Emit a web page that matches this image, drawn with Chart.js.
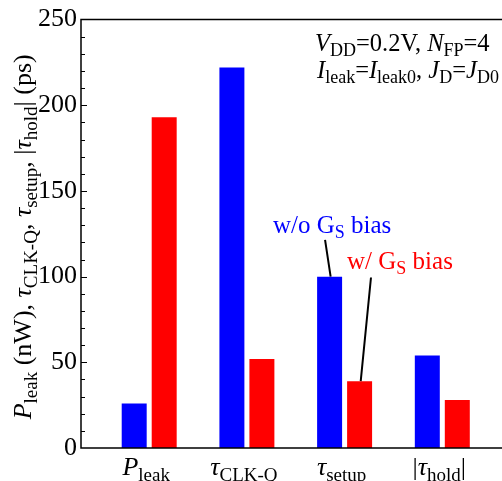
<!DOCTYPE html>
<html lang="en">
<head>
<meta charset="UTF-8">
<title>Leakage power and timing, with and without G_S bias</title>
<script src="https://cdn.jsdelivr.net/npm/chart.js"></script>
<style>
  body { margin: 0; background: #fff; }
  #chart { display: block; }
</style>
</head>
<body>
<canvas id="chart" width="502" height="481"></canvas>
<script>
// one x position per metric
const positions = [1, 2, 3, 4];
const withoutBias = [26, 222, 100, 54];   // w/o G_S bias (blue)
const withBias = [193, 52, 39, 28];       // w/ G_S bias (red)
const yTicks = [0, 50, 100, 150, 200, 250];

// label pieces: [text, 'i' italic | 's' subscript | '' plain]
const xLabels = [
  [['P', 'i'], ['leak', 's']],
  [['τ', 'i'], ['CLK-Q', 's']],
  [['τ', 'i'], ['setup', 's']],
  [['|', ''], ['τ', 'i'], ['hold', 's'], ['|', '']]
];
const yTitle = [
  ['P', 'i'], ['leak', 's'], [' (nW), ', ''],
  ['τ', 'i'], ['CLK-Q', 's'], [', ', ''],
  ['τ', 'i'], ['setup', 's'], [', |', ''],
  ['τ', 'i'], ['hold', 's'], ['| (ps)', '']
];
const noteLine1 = [['V', 'i'], ['DD', 's'], ['=0.2V, ', ''], ['N', 'i'], ['FP', 's'], ['=4', '']];
const noteLine2 = [['I', 'i'], ['leak', 's'], ['=', ''], ['I', 'i'], ['leak0', 's'], [', ', ''], ['J', 'i'], ['D', 's'], ['=', ''], ['J', 'i'], ['D0', 's']];
const labelNoBias = [['w/o G', ''], ['S', 's'], [' bias', '']];
const labelBias = [['w/ G', ''], ['S', 's'], [' bias', '']];

const FONT = '"Liberation Serif", "Times New Roman", serif';

function fontFor(kind, size) {
  const sub = Math.round(size * 0.72);
  if (kind === 's') return sub + 'px ' + FONT;
  if (kind === 'i') return 'italic ' + size + 'px ' + FONT;
  return size + 'px ' + FONT;
}

function richWidth(ctx, parts, size) {
  let w = 0;
  parts.forEach(p => { ctx.font = fontFor(p[1], size); w += ctx.measureText(p[0]).width; });
  return w;
}

function drawRich(ctx, parts, x, y, size, color, align) {
  let cx = x;
  if (align === 'center') cx -= richWidth(ctx, parts, size) / 2;
  ctx.fillStyle = color;
  ctx.textAlign = 'left';
  ctx.textBaseline = 'alphabetic';
  parts.forEach(p => {
    ctx.font = fontFor(p[1], size);
    const dy = p[1] === 's' ? size * 0.22 : 0;
    ctx.fillText(p[0], cx, y + dy);
    cx += ctx.measureText(p[0]).width;
  });
}

const decor = {
  id: 'decor',
  afterDraw(chart) {
    const ctx = chart.ctx;
    const a = chart.chartArea;
    const xs = chart.scales.x, ys = chart.scales.y;
    ctx.save();

    // frame: left, bottom, top
    ctx.strokeStyle = '#000';
    ctx.lineWidth = 1.5;
    ctx.beginPath();
    ctx.moveTo(a.right, a.top); ctx.lineTo(a.left, a.top);
    ctx.lineTo(a.left, a.bottom); ctx.lineTo(a.right, a.bottom);
    ctx.stroke();

    // inward ticks on y axis every 10
    ctx.lineWidth = 1;
    for (let v = yTicks[0] + 10; v < yTicks[yTicks.length - 1]; v += 10) {
      const py = Math.round(ys.getPixelForValue(v)) + 0.5;
      const len = v % 50 === 0 ? 6 : 4;
      ctx.beginPath(); ctx.moveTo(a.left, py); ctx.lineTo(a.left + len, py); ctx.stroke();
    }

    // category labels
    positions.forEach((p, i) => {
      drawRich(ctx, xLabels[i], xs.getPixelForValue(p) - 3, a.bottom + 27, 26, '#000', 'center');
    });

    // y axis title
    ctx.save();
    ctx.translate(31, (a.top + a.bottom) / 2 + 3);
    ctx.rotate(-Math.PI / 2);
    drawRich(ctx, yTitle, 0, 0, 26, '#000', 'center');
    ctx.restore();

    // condition note
    drawRich(ctx, noteLine1, a.left + 234, a.top + 31, 24.5, '#000', 'left');
    drawRich(ctx, noteLine2, a.left + 236, a.top + 58, 24.5, '#000', 'left');

    // series labels with leader lines
    drawRich(ctx, labelNoBias, xs.getPixelForValue(2.267), ys.getPixelForValue(125.5), 25, '#0000ff', 'left');
    drawRich(ctx, labelBias, xs.getPixelForValue(3.025), ys.getPixelForValue(104.5), 25, '#ff0000', 'left');
    ctx.strokeStyle = '#000';
    ctx.lineWidth = 2;
    ctx.beginPath();
    ctx.moveTo(xs.getPixelForValue(2.80), ys.getPixelForValue(121.5));
    ctx.lineTo(xs.getPixelForValue(2.857), ys.getPixelForValue(withoutBias[2]));
    ctx.moveTo(xs.getPixelForValue(3.27), ys.getPixelForValue(99.5));
    ctx.lineTo(xs.getPixelForValue(3.165), ys.getPixelForValue(withBias[2]));
    ctx.stroke();

    ctx.restore();
  }
};

new Chart(document.getElementById('chart'), {
  type: 'bar',
  data: {
    datasets: [
      {
        label: 'w/o G_S bias',
        data: positions.map((p, i) => ({ x: p, y: withoutBias[i] })),
        backgroundColor: '#0000ff',
        borderWidth: 0,
        barPercentage: 0.833,
        categoryPercentage: 0.614
      },
      {
        label: 'w/ G_S bias',
        data: positions.map((p, i) => ({ x: p, y: withBias[i] })),
        backgroundColor: '#ff0000',
        borderWidth: 0,
        barPercentage: 0.833,
        categoryPercentage: 0.614
      }
    ]
  },
  options: {
    responsive: false,
    animation: false,
    devicePixelRatio: 1,
    layout: { padding: { top: 17, right: 0, bottom: 0, left: 0 } },
    plugins: { legend: { display: false }, tooltip: { enabled: false } },
    scales: {
      x: {
        type: 'linear',
        min: 0.302,
        max: 4.611,
        offset: false,
        grid: { display: false, drawTicks: false },
        border: { display: false },
        ticks: { display: false, stepSize: 1, includeBounds: false },
        afterFit(scale) { scale.height = 33; }
      },
      y: {
        min: yTicks[0],
        max: yTicks[yTicks.length - 1],
        grid: { display: false, drawTicks: false, tickLength: 0 },
        border: { display: false },
        ticks: {
          stepSize: yTicks[1] - yTicks[0],
          padding: 4,
          color: '#000',
          font: { family: FONT, size: 26 }
        },
        afterFit(scale) { scale.width = 81; }
      }
    }
  },
  plugins: [decor]
});
</script>
</body>
</html>
